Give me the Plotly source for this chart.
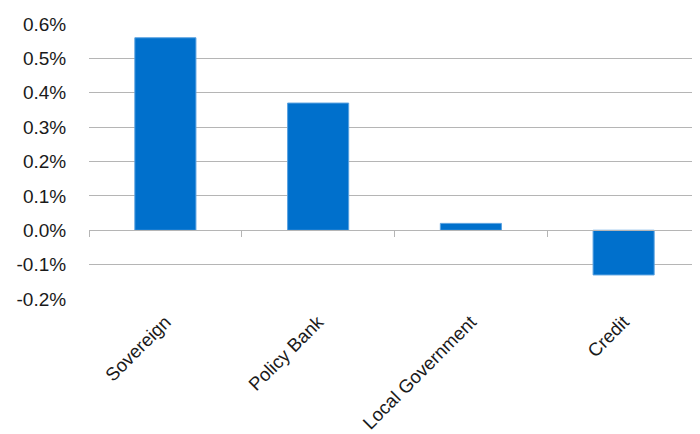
import plotly.graph_objects as go

categories = ["Sovereign", "Policy Bank", "Local Government", "Credit"]
values = [0.0056, 0.0037, 0.0002, -0.0013]
y_ticks = [-0.002, -0.001, 0.0, 0.001, 0.002, 0.003, 0.004, 0.005, 0.006]
y_tick_labels = ["-0.2%", "-0.1%", "0.0%", "0.1%", "0.2%", "0.3%", "0.4%", "0.5%", "0.6%"]

font_family = "Liberation Sans, Arial, sans-serif"
grid_color = "#B5B5B5"

fig = go.Figure()
fig.add_trace(go.Bar(
    x=categories, y=values,
    marker=dict(color="#0070CC", line=dict(color="#5AA2E0", width=1)),
    showlegend=False,
))
# helper trace for the zero-line category axis with boundary ticks
fig.add_trace(go.Scatter(
    x=categories, y=[None] * len(categories), xaxis="x2",
    mode="markers", showlegend=False, hoverinfo="skip",
))

fig.update_layout(
    width=700, height=434,
    margin=dict(l=81, r=8, t=16, b=143, autoexpand=False),
    paper_bgcolor="white", plot_bgcolor="white",
    bargap=0.6,
    font=dict(family=font_family, color="#1a1a1a"),
    xaxis=dict(
        type="category", categoryorder="array", categoryarray=categories,
        tickangle=-45, tickfont=dict(size=18.5, color="#1a1a1a"),
        showgrid=False, showline=False, zeroline=False,
        ticks="outside", ticklen=4, tickcolor="rgba(0,0,0,0)",
        automargin=False,
    ),
    xaxis2=dict(
        type="category", categoryorder="array", categoryarray=categories,
        overlaying="x", matches="x", anchor="free", position=0.25,
        showticklabels=False, showgrid=False, zeroline=False,
        showline=True, linecolor=grid_color, linewidth=1,
        ticks="outside", tickson="boundaries", ticklen=6,
        tickcolor=grid_color, tickwidth=1,
    ),
    yaxis=dict(
        range=[-0.002, 0.006], tickvals=y_ticks, ticktext=y_tick_labels,
        tickfont=dict(size=19, color="#1a1a1a"),
        showgrid=True, gridcolor=grid_color, gridwidth=1,
        zeroline=False, showline=False,
        ticks="outside", ticklen=18, tickcolor="rgba(0,0,0,0)",
        automargin=False,
    ),
)

fig.write_html("out.html")
